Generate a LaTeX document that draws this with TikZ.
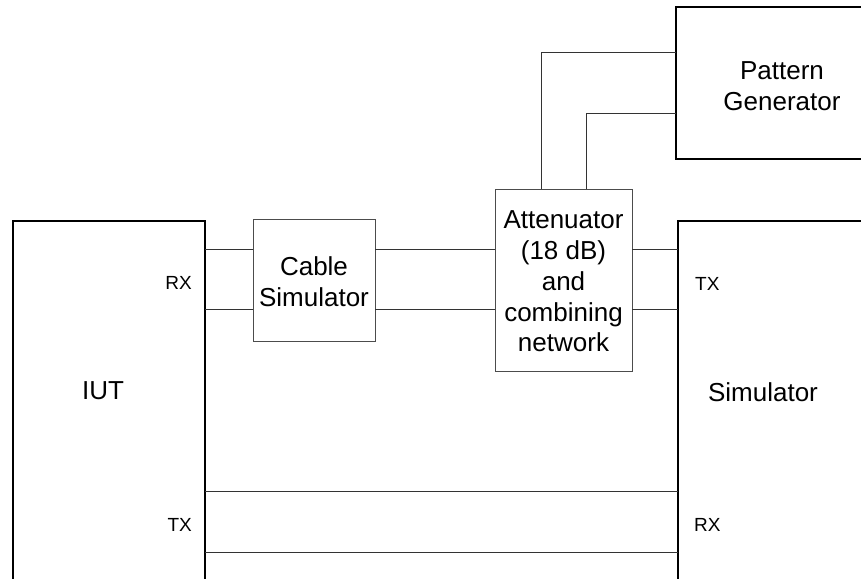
\documentclass[tikz,border=0pt]{standalone}
\usepackage{fontspec}
\setmainfont{Liberation Sans}
\begin{document}
\begin{tikzpicture}[x=1pt,y=-1pt,
  bigbox/.style={draw=black,line width=1.4pt,inner sep=0pt,outer sep=0pt,anchor=north west},
  smallbox/.style={draw=black!70,line width=1pt,inner sep=0pt,outer sep=0pt,anchor=north west},
  wire/.style={draw=black!80,line width=1pt},
  bigtxt/.style={font=\fontsize{26}{30.8}\selectfont,align=center,inner sep=0pt},
  smalltxt/.style={font=\fontsize{19}{22}\selectfont,inner sep=0pt}]
\useasboundingbox (0,0) rectangle (861,578);
% boxes
\node[bigbox,minimum width=192pt,minimum height=400pt] (IUT) at (13,221) {};
\node[bigbox,minimum width=230pt,minimum height=400pt] (SIM) at (678,221) {};
\node[bigbox,minimum width=230pt,minimum height=152pt] (PG) at (676,7) {};
\node[smallbox,minimum width=122pt,minimum height=122pt] (CAB) at (253,219) {};
\node[smallbox,minimum width=137pt,minimum height=182pt] (ATT) at (495,189) {};
% texts
\node[bigtxt] (tIUT) at (103,391) {IUT};
\node[bigtxt] (tSIM) at (763,392) {Simulator};
\node[bigtxt] (tPG) at (782,86) {Pattern\\Generator};
\node[bigtxt] (tCAB) at (314,282) {Cable\\Simulator};
\node[bigtxt] (tATT) at (563.5,281.5) {Attenuator\\(18 dB)\\and\\combining\\network};
\node[smalltxt,anchor=base east] (rx1) at (192,289) {RX};
\node[smalltxt,anchor=base east] (tx1) at (192,531) {TX};
\node[smalltxt,anchor=base west] (tx2) at (695,290) {TX};
\node[smalltxt,anchor=base west] (rx2) at (694,531) {RX};
% wires
\draw[wire] (IUT.east |- 0,249) -- (CAB.west |- 0,249);
\draw[wire] (IUT.east |- 0,309) -- (CAB.west |- 0,309);
\draw[wire] (CAB.east |- 0,249) -- (ATT.west |- 0,249);
\draw[wire] (CAB.east |- 0,309) -- (ATT.west |- 0,309);
\draw[wire] (ATT.east |- 0,249) -- (SIM.west |- 0,249);
\draw[wire] (ATT.east |- 0,309) -- (SIM.west |- 0,309);
\draw[wire] (IUT.east |- 0,491) -- (SIM.west |- 0,491);
\draw[wire] (IUT.east |- 0,552) -- (SIM.west |- 0,552);
\draw[wire] (541,0 |- ATT.north) |- (PG.west |- 0,53);
\draw[wire] (586,0 |- ATT.north) |- (PG.west |- 0,113);
\end{tikzpicture}
\end{document}
